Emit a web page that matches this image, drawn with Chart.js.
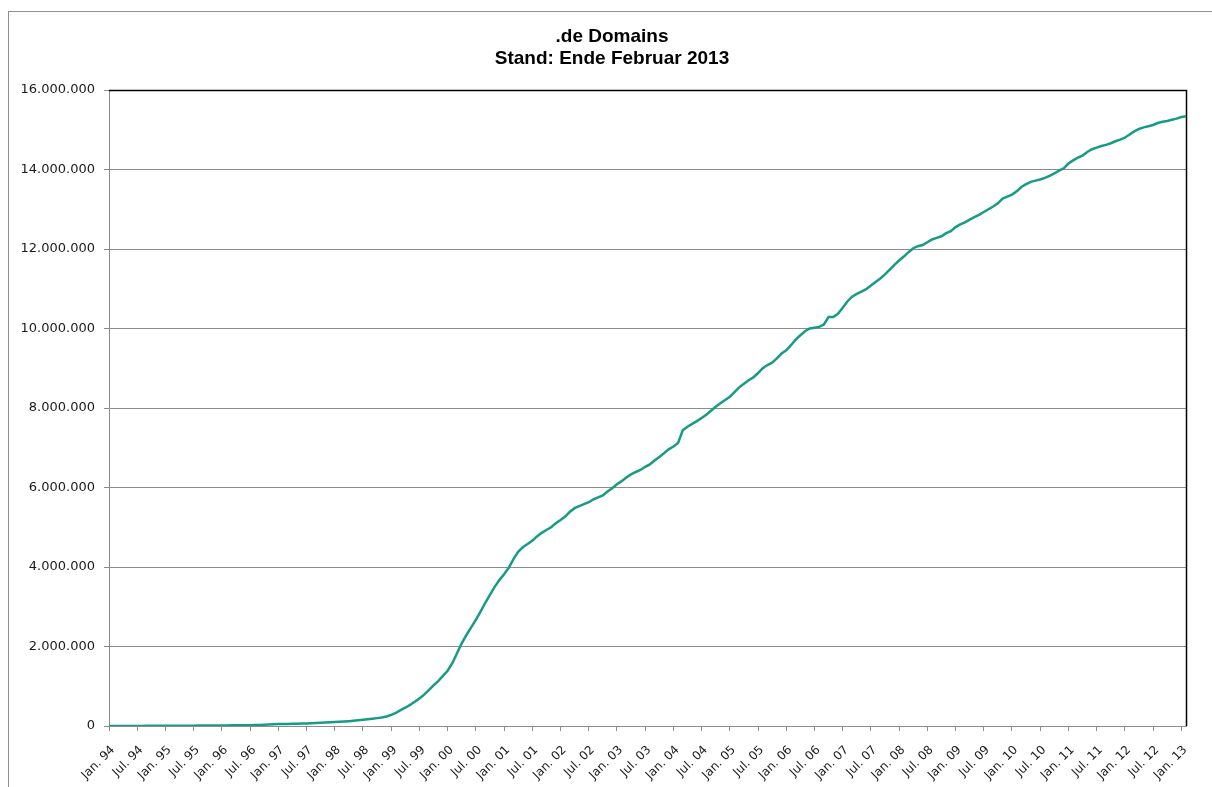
<!DOCTYPE html>
<html>
<head>
<meta charset="utf-8">
<title>.de Domains</title>
<script src="https://cdn.jsdelivr.net/npm/chart.js@4.4.1/dist/chart.umd.min.js"></script>
<style>
  html, body { margin: 0; padding: 0; background: #fff; overflow: hidden; }
  #wrap { position: relative; width: 1212px; height: 787px; }
  #frame { position: absolute; left: 8px; top: 11px; width: 1260px; height: 840px; border: 1px solid #8f8f8f; pointer-events: none; }
</style>
</head>
<body>
<div id="wrap">
  <canvas id="domainChart" width="1212" height="787"></canvas>
  <div id="frame"></div>
</div>
<script>
const years = ['94', '95', '96', '97', '98', '99', '00', '01', '02', '03',
               '04', '05', '06', '07', '08', '09', '10', '11', '12', '13'];
const monthNames = ['Jan.', 'Feb.', 'Mär.', 'Apr.', 'Mai', 'Jun.',
                    'Jul.', 'Aug.', 'Sep.', 'Okt.', 'Nov.', 'Dez.'];

// registered .de domains, end of month, in thousands
const domainsK = [
    1, 1, 2, 2, 2, 3, 3, 3, 4, 4, 5, 5,                                     // 1994
    6, 6, 7, 7, 8, 8, 9, 10, 10, 11, 12, 13,                                // 1995
    14, 15, 16, 17, 18, 19, 20, 24, 28, 33, 38, 43,                         // 1996
    48, 50, 52, 55, 58, 62, 66, 71, 76, 82, 88, 94,                         // 1997
    100, 106, 112, 120, 130, 142, 155, 168, 182, 198, 212, 240,             // 1998
    280, 330, 400, 460, 530, 610, 690, 790, 900, 1020, 1130, 1260,          // 1999
    1390, 1580, 1830, 2080, 2290, 2480, 2670, 2880, 3100, 3300, 3500, 3670, // 2000
    3820, 3980, 4200, 4380, 4500, 4580, 4660, 4770, 4860, 4930, 5000, 5100, // 2001
    5180, 5270, 5390, 5480, 5530, 5580, 5630, 5700, 5750, 5800, 5900, 5980, // 2002
    6080, 6160, 6250, 6330, 6390, 6440, 6520, 6580, 6680, 6770, 6860, 6960, // 2003
    7030, 7120, 7440, 7530, 7600, 7670, 7750, 7830, 7930, 8030, 8120, 8200, // 2004
    8280, 8400, 8520, 8610, 8700, 8770, 8880, 9000, 9080, 9140, 9250, 9370, // 2005
    9450, 9580, 9720, 9830, 9930, 10000, 10020, 10040, 10100, 10290, 10290, 10370, // 2006
    10520, 10680, 10800, 10870, 10930, 10990, 11080, 11170, 11260, 11360, 11480, 11600, // 2007
    11710, 11810, 11920, 12020, 12070, 12100, 12170, 12240, 12280, 12320, 12400, 12450, // 2008
    12550, 12620, 12670, 12740, 12800, 12860, 12930, 13000, 13070, 13150, 13270, 13320, // 2009
    13370, 13450, 13560, 13630, 13690, 13720, 13750, 13790, 13840, 13900, 13970, 14030, // 2010
    14150, 14230, 14300, 14350, 14440, 14510, 14550, 14590, 14620, 14660, 14710, 14750, // 2011
    14800, 14880, 14960, 15020, 15060, 15090, 15120, 15170, 15200, 15220, 15250, 15280, // 2012
    15320, 15340                                                            // 2013
];

// one category per month, as long as there are values
const labels = [];
years.forEach(y => {
    monthNames.forEach(m => {
        if (labels.length < domainsK.length) labels.push(m + ' ' + y);
    });
});

function germanNumber(v) {
    return String(v).replace(/\B(?=(\d{3})+(?!\d))/g, '.');
}

// black top and right edge of the plot area, like the Excel frame
const plotBorder = {
    id: 'plotBorder',
    beforeDatasetsDraw(chart) {
        const { ctx, chartArea: a } = chart;
        ctx.save();
        ctx.strokeStyle = '#000';
        ctx.lineWidth = 1.5;
        ctx.beginPath();
        ctx.moveTo(a.left, Math.round(a.top) + 0.5);
        ctx.lineTo(Math.round(a.right) + 0.5, Math.round(a.top) + 0.5);
        ctx.lineTo(Math.round(a.right) + 0.5, a.bottom);
        ctx.stroke();
        ctx.restore();
    }
};

const gridGray = '#8c8c8c';

const ctx = document.getElementById('domainChart').getContext('2d');
new Chart(ctx, {
    type: 'line',
    data: {
        labels: labels,
        datasets: [{
            label: '.de Domains',
            data: domainsK.map(v => v * 1000),
            borderColor: '#179b85',
            borderWidth: 2.5,
            pointRadius: 0,
            tension: 0,
            fill: false
        }]
    },
    options: {
        responsive: false,
        animation: false,
        layout: {
            padding: { left: 12, right: 0, top: 0, bottom: 0 }
        },
        plugins: {
            legend: { display: false },
            tooltip: { enabled: false },
            title: {
                display: true,
                text: ['.de Domains', 'Stand: Ende Februar 2013'],
                color: '#000',
                font: { family: "'Liberation Sans', Arial, sans-serif", size: 19, weight: 'bold', lineHeight: 1.2 },
                padding: { top: 25, bottom: 19.4 }
            }
        },
        scales: {
            x: {
                grid: {
                    drawOnChartArea: false,
                    tickLength: 5,
                    color: c => (c.index % 6 === 0 ? gridGray : 'transparent')
                },
                border: { color: gridGray },
                ticks: {
                    autoSkip: false,
                    minRotation: 45,
                    maxRotation: 45,
                    padding: 12,
                    labelOffset: 4,
                    color: '#1a1a1a',
                    font: { family: "'DejaVu Sans', sans-serif", size: 12 },
                    callback: (v, i) => (i % 6 === 0 ? labels[i] : '')
                },
                afterFit: s => { s.height = 61; }
            },
            y: {
                min: 0,
                max: 16000000,
                grid: { color: gridGray, tickLength: 5 },
                border: { color: gridGray },
                ticks: {
                    stepSize: 2000000,
                    padding: 9,
                    color: '#1a1a1a',
                    font: { family: "'DejaVu Sans', sans-serif", size: 13 },
                    callback: v => germanNumber(v)
                },
                afterFit: s => { s.width = 97; }
            },
            // empty strip right of the plot, keeps the title centred on the frame
            rightSpace: {
                position: 'right',
                grid: { display: false },
                border: { display: false },
                ticks: { display: false },
                afterFit: s => { s.width = 26; }
            }
        }
    },
    plugins: [plotBorder]
});
</script>
</body>
</html>
